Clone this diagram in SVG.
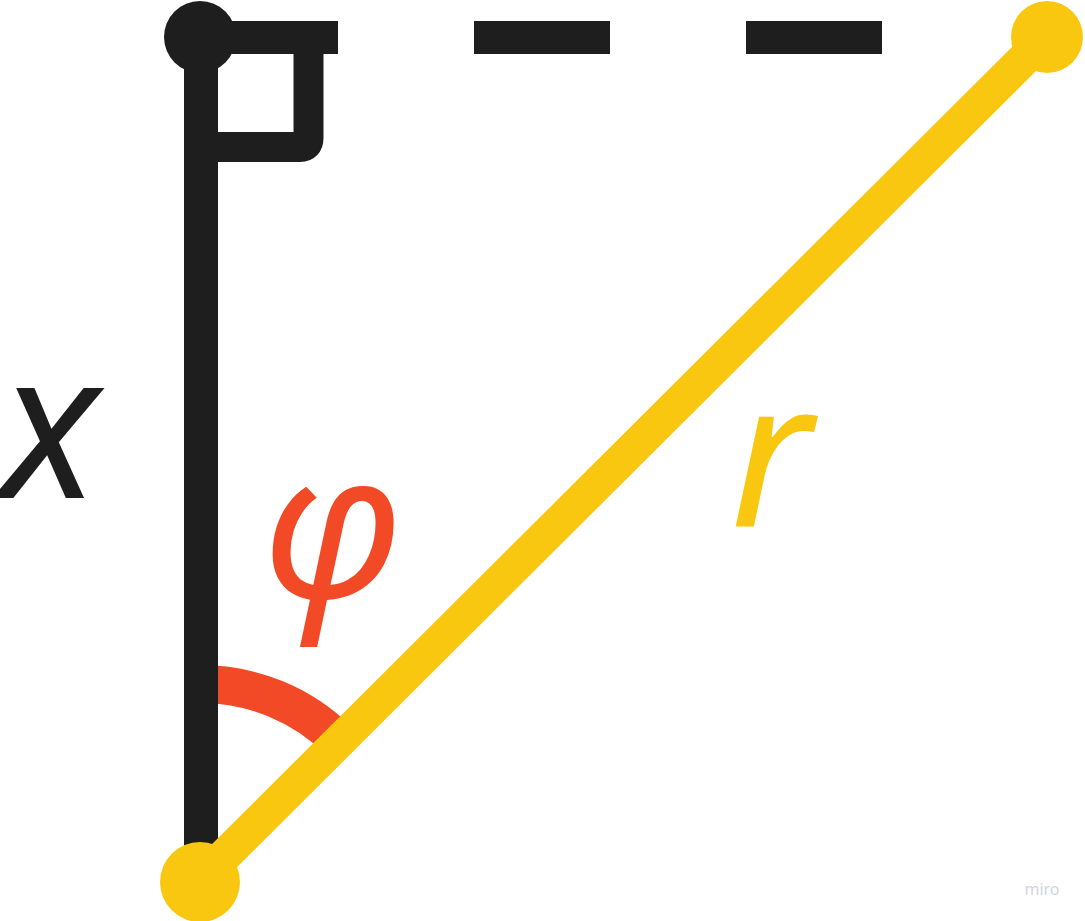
<svg xmlns="http://www.w3.org/2000/svg" width="1085" height="921" viewBox="0 0 1085 921">
<style>
.blk{stroke:#1E1E1E;fill:none}
.yel{stroke:#FAC710;fill:none}
.lbl{font-family:"Noto Sans","Open Sans",sans-serif;font-style:italic;font-size:205px}
</style>
<rect width="1085" height="921" fill="#ffffff"/>
<g id="connectors">
<path d="M200 684 A196 196 0 0 1 339 741" fill="none" stroke="#F24A27" stroke-width="38"/>
<line class="blk" x1="201" y1="40" x2="201" y2="870" stroke-width="34"/>
<line class="blk" x1="202" y1="37.5" x2="882" y2="37.5" stroke-width="33" stroke-dasharray="136 136"/>
<path class="blk" d="M218 147 H300 Q308.5 147 308.5 138 V54" stroke-width="30"/>
<line class="yel" x1="200" y1="880" x2="1046" y2="37" stroke-width="34"/>
</g>
<g id="node-top-left"><circle cx="200" cy="37" r="36" fill="#1E1E1E"/></g>
<g id="node-bottom"><circle cx="200" cy="882" r="40" fill="#FAC710"/></g>
<g id="node-top-right"><circle cx="1047" cy="37" r="36" fill="#FAC710"/></g>
<g id="label-x"><text class="lbl" x="0" y="498" fill="#1E1E1E">x</text></g>
<g id="label-phi"><text class="lbl" x="262" y="598" fill="#F24A27">φ</text></g>
<g id="label-r"><text class="lbl" x="730" y="527" fill="#FAC710">r</text></g>
<text x="1042" y="895" font-family="Noto Sans, sans-serif" font-size="16" fill="#D4D4E2" text-anchor="middle">miro</text>
</svg>
